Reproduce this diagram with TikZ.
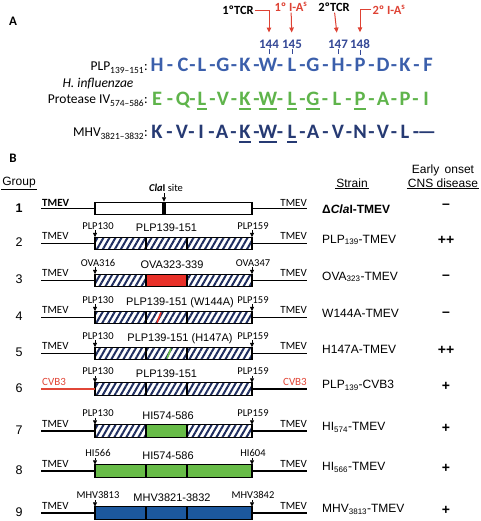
\documentclass[tikz,border=0pt]{standalone}
\usepackage{fontspec}
\setmainfont{Liberation Sans}
\newfontfamily\calib{Carlito}
\usepackage{tikz}
\usetikzlibrary{arrows.meta,patterns.meta,positioning}
\definecolor{seqblue}{RGB}{59,95,171}
\definecolor{seqgreen}{RGB}{95,180,75}
\definecolor{seqnavy}{RGB}{38,58,115}
\definecolor{numblue}{RGB}{52,72,150}
\definecolor{arrred}{RGB}{222,66,52}
\definecolor{hatchnavy}{RGB}{30,45,95}
\definecolor{boxred}{RGB}{232,48,40}
\definecolor{boxgreen}{RGB}{104,188,72}
\definecolor{boxblue}{RGB}{28,88,158}
\definecolor{cvbred}{RGB}{225,70,55}

\begin{document}
\begin{tikzpicture}[x=1pt,y=-1pt,>=Stealth
	,res/.style={font=\calib\bfseries\fontsize{20.5}{24}\selectfont, inner sep=0pt, anchor=base}
	,seqlabel/.style={font=\calib\fontsize{13.5}{15}\selectfont, inner sep=0pt, anchor=base east}
	,uline/.style={line width=1.5pt}
	,resnum/.style={font=\calib\bfseries\fontsize{13}{15}\selectfont, text=numblue, inner sep=1pt}
	,postick/.style={draw=numblue, line width=0.8pt}
	,epi/.style={font=\calib\bfseries\fontsize{12.5}{14}\selectfont, inner sep=1pt}
	,redarr/.style={draw=arrred, line width=1pt, -{Triangle[width=4.5pt,length=5pt]}, shorten >=6pt}
	,panel/.style={font=\calib\bfseries\fontsize{13}{15}\selectfont}
	,colhead/.style={font=\fontsize{12}{14}\selectfont, align=center, inner sep=1pt}
	,grp/.style={font=\fontsize{12.5}{14}\selectfont, anchor=base, inner sep=0pt}
	,seg/.style={draw=black, line width=1.4pt, minimum height=12.5pt, inner sep=0pt, outer sep=0pt}
	,hatch/.style={pattern={Lines[angle=60,distance=5.2pt,line width=2pt]}, pattern color=hatchnavy}
	,whiteseg/.style={fill=white}
	,redseg/.style={fill=boxred}
	,greenseg/.style={fill=boxgreen}
	,blueseg/.style={fill=boxblue}
	,vline/.style={line width=1.4pt}
	,virus/.style={font=\calib\fontsize{11}{12}\selectfont, inner sep=0pt}
	,sitelabel/.style={font=\calib\fontsize{10.5}{12}\selectfont, inner sep=1pt, anchor=base}
	,sitearrow/.style={line width=0.8pt, -{Triangle[width=4pt,length=4.5pt]}}
	,insertname/.style={font=\fontsize{11}{12}\selectfont, inner sep=0pt, anchor=base}
	,strain/.style={font=\fontsize{12}{13}\selectfont, inner sep=0pt, anchor=base west}
	,onset/.style={font=\fontsize{14}{16}\selectfont\bfseries, inner sep=0pt}
	]
	\useasboundingbox (0,0) rectangle (480,521);
	
	% panel A: epitope sequences
	\node[panel] (pa) at (13,21) {A};
	\node[epi] (tcr1) at (238,10.5) {1ºTCR};
	\node[epi, text=arrred] (ia1) at (291,7) {1º I-A\textsuperscript{s}};
	\node[epi] (tcr2) at (334,7) {2ºTCR};
	\node[epi, text=arrred] (ia2) at (389,10) {2º I-A\textsuperscript{s}};
	\node[resnum] (n144) at (269,44) {144};
	\node[resnum] (n145) at (292,44) {145};
	\node[resnum] (n147) at (338,44) {147};
	\node[resnum] (n148) at (360,44) {148};
	\draw[redarr] (tcr1.east) -| (n144);
	\draw[redarr] (ia1) -- (n145);
	\draw[redarr] (tcr2) -- (n147);
	\draw[redarr] (ia2.west) -| (n148);
	\foreach \n in {144,145,147,148}
		\draw[postick] (n\n.south) -- ++(0,5);
	
	\node[seqlabel] (lplp) at (148,71) {PLP\textsubscript{139–151}:};
	\node[font=\calib\itshape\fontsize{13.5}{15}\selectfont] (lhi) at (98,84) {H. influenzae};
	\node[seqlabel] (lprot) at (148,104) {Protease IV\textsubscript{574–586}:};
	\node[seqlabel] (lmhv) at (148,137) {MHV\textsubscript{3821–3832}:};
	
	\foreach \l/\x [count=\k, remember=\x as \lx (initially 158)] in {H/157,C/183,L/202,G/223,K/245,W/268,L/292,G/313,H/338,P/360,D/383,K/405,F/428} {
		\node[res, text=seqblue] (p\k) at (\x,72) {\l};
		\ifnum\k>1 \node[res, text=seqblue] (pd\k) at ({(\x+\lx)/2},72) {-}; \fi
	}
	\foreach \l/\x/\u [count=\k, remember=\x as \lx (initially 158)] in {E/157/0,Q/183/0,L/202/1,V/223/0,K/245/1,W/268/1,L/292/1,G/313/1,L/337/0,P/360/1,A/383/0,P/405/0,I/426/0} {
		\node[res, text=seqgreen] (h\k) at (\x,106) {\l};
		\ifnum\k>1 \node[res, text=seqgreen] (hd\k) at ({(\x+\lx)/2},106) {-}; \fi
		\ifnum\u=1 \draw[uline, seqgreen] ([yshift=-3pt]h\k.base west) -- ([yshift=-3pt]h\k.base east); \fi
	}
	\foreach \l/\x/\u [count=\k, remember=\x as \lx (initially 158)] in {K/157/0,V/182/0,I/201/0,A/222/0,K/245/1,W/268/1,L/292/1,A/313/0,V/338/0,N/360/0,V/383/0,L/405/0,—/427/0} {
		\node[res, text=seqnavy] (m\k) at (\x,139) {\l};
		\ifnum\k>1 \node[res, text=seqnavy] (md\k) at ({(\x+\lx)/2},139) {-}; \fi
		\ifnum\u=1 \draw[uline, seqnavy] ([yshift=-3pt]m\k.base west) -- ([yshift=-3pt]m\k.base east); \fi
	}
	
	% panel B: constructs
	\node[panel] (pb) at (13,158) {B};
	\node[colhead] (hgroup) at (19,183) {Group};
	\node[colhead] (hstrain) at (352,183) {Strain};
	\node[colhead] (honset) at (443,176) {Early\, onset\\CNS disease};
	\draw[line width=1pt] (hgroup.south west) -- (hgroup.south east);
	\draw[line width=1pt] (hstrain.south west) -- (hstrain.south east);
	\draw[line width=1pt] (honset.south west) -- (honset.south east);
	
	% group 1
	\node[grp, font=\fontsize{12.5}{14}\selectfont\bfseries] (g1) at (19,212.5) {1};
	\coordinate (l1) at (41,208.5);
	\coordinate (r1) at (307,208.5);
	\node[seg, whiteseg, minimum width=157pt] (box1) at (173.5,208.5) {};
	\draw[vline] (l1) -- (box1.west);
	\draw[vline] (box1.east) -- (r1);
	\node[fill=black, inner sep=0pt, minimum width=3.5pt, minimum height=13pt] (clabar) at (164,208.5) {};
	\node[sitelabel] (clasite) at (166,192) {\textbf{\textit{Cla}I} site};
	\draw[sitearrow] (clasite.south -| clabar.north) -- (clabar.north);
	\node[virus, font=\calib\bfseries\fontsize{11}{12}\selectfont, anchor=base west] (lv1) at (42,206) {TMEV};
	\node[virus, anchor=base east] (rv1) at (307,206) {TMEV};
	
	% groups 2-9
	\foreach \i/\y/\fa/\fb/\fc/\vir/\vc/\ml/\mr in {
		2/243.5/hatch/hatch/hatch/TMEV/black/PLP130/PLP159,
		3/280.5/hatch/redseg/hatch/TMEV/black/OVA316/OVA347,
		4/317.5/hatch/hatch/hatch/TMEV/black/PLP130/PLP159,
		5/353.5/hatch/hatch/hatch/TMEV/black/PLP130/PLP159,
		6/389/hatch/hatch/hatch/CVB3/cvbred/PLP130/PLP159,
		7/431/hatch/greenseg/hatch/TMEV/black/PLP130/PLP159,
		8/471/greenseg/greenseg/greenseg/TMEV/black/HI566/HI604,
		9/513/blueseg/blueseg/blueseg/TMEV/black/MHV3813/MHV3842} {
		\node[grp] (g\i) at (19,{\y+3}) {\i};
		\coordinate (l\i) at (41,\y);
		\coordinate (r\i) at (307,\y);
		\node[seg,\fa,minimum width=51pt] (a\i) at (120.5,\y) {};
		\node[seg,\fb,minimum width=41pt] (b\i) at (166.5,\y) {};
		\node[seg,\fc,minimum width=65pt] (c\i) at (219.5,\y) {};
		\draw[vline,draw=\vc] (l\i) -- (a\i.west);
		\draw[vline] (c\i.east) -- (r\i);
		\node[virus,text=\vc,anchor=base west] (lv\i) at (42,{\y-4}) {\vir};
		\node[virus,text=\vc,anchor=base east] (rv\i) at (307,{\y-4}) {\vir};
		\node[sitelabel] (ml\i) at (98,{\y-14.5}) {\ml};
		\node[sitelabel] (mr\i) at (253,{\y-14.5}) {\mr};
		\draw[sitearrow] (ml\i.south -| a\i.north west) -- (a\i.north west);
		\draw[sitearrow] (mr\i.south -| c\i.north east) -- (c\i.north east);
	}
	% point mutations
	\draw[line width=1.6pt, boxred] (157,322.5) -- (161,312.5);
	\draw[line width=1.6pt, boxgreen] (167,358.5) -- (171,348.5);
	
	% inserts
	\node[insertname] (t2) at ([yshift=5.5pt]b2.north) {PLP139-151};
	\node[insertname] (t3) at ([xshift=5.5pt,yshift=5.5pt]b3.north) {OVA323-339};
	\node[insertname] (t4) at ([xshift=13.5pt,yshift=5.5pt]b4.north) {PLP139-151 (W144A)};
	\node[insertname] (t5) at ([xshift=13.5pt,yshift=5.5pt]b5.north) {PLP139-151 (H147A)};
	\node[insertname] (t6) at ([yshift=5.5pt]b6.north) {PLP139-151};
	\node[insertname] (t7) at ([xshift=1.5pt,yshift=5.5pt]b7.north) {HI574-586};
	\node[insertname] (t8) at ([xshift=1.5pt,yshift=5.5pt]b8.north) {HI574-586};
	\node[insertname] (t9) at ([xshift=5.5pt,yshift=5.5pt]b9.north) {MHV3821-3832};
	
	% strains
	\node[strain, font=\bfseries\fontsize{12}{13}\selectfont] (s1) at (322,213) {Δ\textit{Cla}I-TMEV};
	\node[strain] (s2) at (322,243) {PLP\textsubscript{139}-TMEV};
	\node[strain] (s3) at (322,280) {OVA\textsubscript{323}-TMEV};
	\node[strain] (s4) at (322,317) {W144A-TMEV};
	\node[strain] (s5) at (322,353) {H147A-TMEV};
	\node[strain] (s6) at (322,388.5) {PLP\textsubscript{139}-CVB3};
	\node[strain] (s7) at (322,430.5) {HI\textsubscript{574}-TMEV};
	\node[strain] (s8) at (322,470.5) {HI\textsubscript{566}-TMEV};
	\node[strain] (s9) at (322,512.5) {MHV\textsubscript{3813}-TMEV};
	
	% early onset CNS disease
	\node[onset] (d1) at (446,206) {–};
	\node[onset] (d2) at (446,240.5) {++};
	\node[onset] (d3) at (446,277.5) {–};
	\node[onset] (d4) at (446,314.5) {–};
	\node[onset] (d5) at (446,350.5) {++};
	\node[onset] (d6) at (446,386) {+};
	\node[onset] (d7) at (446,428) {+};
	\node[onset] (d8) at (446,468) {+};
	\node[onset] (d9) at (446,510) {+};
\end{tikzpicture}
\end{document}
